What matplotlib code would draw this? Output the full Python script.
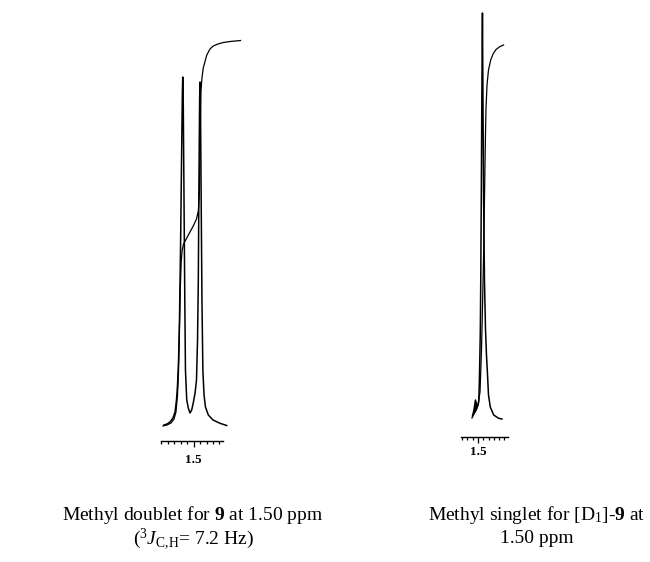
import numpy as np
import matplotlib
matplotlib.use("Agg")
import matplotlib.pyplot as plt
from matplotlib.ticker import FixedLocator, NullFormatter

plt.rcParams['font.family'] = ['Liberation Serif', 'DejaVu Serif']
plt.rcParams['mathtext.fontset'] = 'custom'
plt.rcParams['mathtext.rm'] = 'Liberation Serif'
plt.rcParams['mathtext.it'] = 'Liberation Serif:italic'
plt.rcParams['mathtext.bf'] = 'Liberation Serif:bold'

# Methyl doublet of 9 (ppm, intensity)
doublet_ppm = [1.5227, 1.5204, 1.5181, 1.5158, 1.5142, 1.5131, 1.5123, 1.5115, 1.5108,
               1.5100, 1.5092, 1.5086, 1.5083, 1.5079, 1.5073, 1.5067, 1.5062, 1.5052,
               1.5040, 1.5027, 1.5014, 1.5002, 1.4988, 1.4977, 1.4969, 1.4963, 1.4958,
               1.4953, 1.4950, 1.4946, 1.4941, 1.4935, 1.4928, 1.4919, 1.4908, 1.4886,
               1.4850, 1.4796, 1.4745]
doublet_int = [0, 1, 3, 7, 13, 25, 40, 65, 105,
               175, 265, 330, 348, 325, 225, 125, 55, 25,
               17, 12, 15, 22, 32, 45, 85, 145, 245,
               325, 343, 315, 225, 125, 55, 30, 18, 10,
               5, 1.7, -0.5]

# integral trace of the doublet
doublet_integ_ppm = [1.5235, 1.5204, 1.5173, 1.5150, 1.5135, 1.5123, 1.5115, 1.5108, 1.5102,
                     1.5095, 1.5087, 1.5077, 1.5052, 1.5027, 1.5002, 1.4977, 1.4963, 1.4955,
                     1.4950, 1.4946, 1.4942, 1.4935, 1.4925, 1.4898, 1.4873, 1.4848, 1.4812,
                     1.4771, 1.4719, 1.4638]
doublet_integ = [-1, 0, 2, 6, 13, 30, 55, 95, 135,
                 163, 175, 181, 187, 193, 199, 206, 214, 230,
                 275, 315, 335, 347, 357, 370, 376, 379, 381,
                 382.5, 383.5, 384.5]

# Methyl singlet of [D1]-9
singlet_ppm = [1.5052, 1.5038, 1.5024, 1.5014, 1.5028, 1.5009, 1.4993, 1.4988, 1.4983,
               1.4978, 1.4974, 1.4969, 1.4964, 1.4958, 1.4953, 1.4947, 1.4939, 1.4929,
               1.4920, 1.4910, 1.4901, 1.4884, 1.4852, 1.4805, 1.4774]
singlet_int = [3, 9, 19, 15, 7, 11, 17, 34, 59,
               89, 139, 219, 319, 406, 319, 219, 139, 89,
               64, 44, 24, 12, 4, 0.7, 0]

singlet_integ_ppm = [1.5057, 1.5028, 1.5000, 1.4981, 1.4967, 1.4956, 1.4946, 1.4939, 1.4932,
                     1.4925, 1.4915, 1.4901, 1.4880, 1.4858, 1.4830, 1.4792, 1.4759]
singlet_integ = [1, 7, 14, 27, 69, 119, 169, 219, 269,
                 309, 334, 349, 359, 365, 369.5, 372.5, 374]

left_ticks = [1.525, 1.520, 1.515, 1.510, 1.505, 1.495, 1.490, 1.485, 1.480]
right_ticks = [1.515, 1.510, 1.505, 1.495, 1.490, 1.485, 1.480, 1.475]
major_tick = [1.5]
tick_label = ['1.5']

fig = plt.figure(figsize=(6.5, 5.62), dpi=100)


def spectrum_axes(rect, xlim, ylim, bar_y, bounds, minor, pad):
    ax = fig.add_axes(rect)
    ax.set_xlim(*xlim)
    ax.set_ylim(*ylim)
    for s in ['top', 'left', 'right']:
        ax.spines[s].set_visible(False)
    ax.spines['bottom'].set_position(('data', bar_y))
    ax.spines['bottom'].set_bounds(*bounds)
    ax.spines['bottom'].set_linewidth(1.0)
    ax.set_yticks([])
    ax.xaxis.set_major_locator(FixedLocator(major_tick))
    ax.set_xticklabels(tick_label, fontsize=9.5, fontweight='bold')
    ax.xaxis.set_minor_locator(FixedLocator(minor))
    ax.xaxis.set_minor_formatter(NullFormatter())
    ax.tick_params(axis='x', which='major', direction='out', length=4, width=0.9, pad=pad)
    ax.tick_params(axis='x', which='minor', direction='out', length=2.5, width=0.9)
    ax.patch.set_alpha(0)
    return ax


ax1 = spectrum_axes([0.2308, 0.1637, 0.1538, 0.8007], (1.53346, 1.45654), (-45, 405),
                    -16, (1.525, 1.477), left_ticks, 5)
ax1.plot(doublet_ppm, doublet_int, color='black', lw=1.1)
ax1.plot(doublet_integ_ppm, doublet_integ, color='black', lw=0.9)

ax2 = spectrum_axes([0.7, 0.1637, 0.0923, 0.8363], (1.52170, 1.46509), (-51, 419),
                    -18, (1.516, 1.4717), right_ticks, 2.5)
ax2.plot(singlet_ppm, singlet_int, color='black', lw=1.1)
ax2.plot(singlet_integ_ppm, singlet_integ, color='black', lw=0.9)

# captions
fig.text(0.297, 0.084, r'Methyl doublet for $\mathbf{9}$ at 1.50 ppm', ha='center', va='center', fontsize=14)
fig.text(0.297, 0.040, r'($^{3}J_{\mathrm{C{,}H}}$= 7.2 Hz)', ha='center', va='center', fontsize=14)
fig.text(0.826, 0.084, r'Methyl singlet for [D$_{1}$]$\mathbf{\text{-}9}$ at', ha='center', va='center', fontsize=14)
fig.text(0.826, 0.042, '1.50 ppm', ha='center', va='center', fontsize=14)

plt.savefig('out.png', dpi=100)
